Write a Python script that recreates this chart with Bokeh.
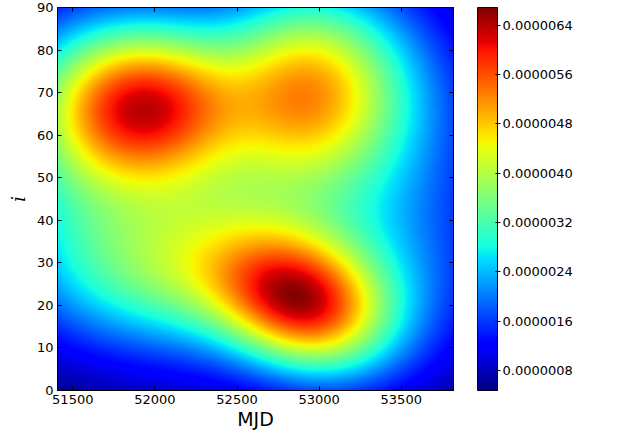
import numpy as np
from bokeh.plotting import figure
from bokeh.models import (LinearColorMapper, FixedTicker, PrintfTickFormatter,
                          LinearAxis, Label, Range1d, CustomLabelingPolicy)
from bokeh.layouts import row
from bokeh.embed import file_html
from bokeh.resources import INLINE

# Extent of the density map
mjd_limits = [51407, 53818]
inc_limits = [0, 90]

# Density model: each component has a centre (MJD, i), spreads, correlation and peak density
comp_mjd = [52650, 51450, 53400, 53400, 51950, 52920, 52900, 52150, 52250]
comp_inc = [51, 60, 70, 22, 67, 71, 20, 28, 45]
comp_mjd_sd = [1400, 350, 330, 400, 410, 350, 350, 600, 600]
comp_inc_sd = [38, 22, 18, 15, 13, 16, 11, 13, 10]
comp_corr = [0.0, 0.0, 0.0, 0.0, 0.0, 0.0, -0.2, 0.0, 0.0]
comp_peak = [1.8e-6, 1.0e-6, 0.9e-6, 0.8e-6, 4.45e-6, 3.15e-6, 4.0e-6, 2.3e-6, 0.3e-6]

# Colour scale and ticks
density_range = [4.75e-7, 6.69e-6]
density_ticks = [8e-7, 1.6e-6, 2.4e-6, 3.2e-6, 4.0e-6, 4.8e-6, 5.6e-6, 6.4e-6]
mjd_ticks = [51500, 52000, 52500, 53000, 53500]
inc_ticks = [0, 10, 20, 30, 40, 50, 60, 70, 80, 90]


def jet_palette(n=256):
    t = np.linspace(0, 1, n)
    r = np.interp(t, [0, 0.35, 0.66, 0.89, 1], [0, 0, 1, 1, 0.5])
    g = np.interp(t, [0, 0.125, 0.375, 0.64, 0.91, 1], [0, 0, 1, 1, 0, 0])
    b = np.interp(t, [0, 0.11, 0.34, 0.65, 1], [0.5, 1, 1, 0, 0])
    return ["#%02x%02x%02x" % (int(round(rr * 255)), int(round(gg * 255)), int(round(bb * 255)))
            for rr, gg, bb in zip(r, g, b)]


FRAME_W, FRAME_H = 396, 383

# Evaluate the density on the pixel grid
xs = mjd_limits[0] + (np.arange(FRAME_W) + 0.5) * (mjd_limits[1] - mjd_limits[0]) / FRAME_W
ys = inc_limits[0] + (np.arange(FRAME_H) + 0.5) * (inc_limits[1] - inc_limits[0]) / FRAME_H
X, Y = np.meshgrid(xs, ys)
density = np.zeros_like(X)
for cx, cy, sx, sy, rho, amp in zip(comp_mjd, comp_inc, comp_mjd_sd, comp_inc_sd, comp_corr, comp_peak):
    u = (X - cx) / sx
    v = (Y - cy) / sy
    density += amp * np.exp(-(u * u - 2 * rho * u * v + v * v) / (2 * (1 - rho * rho)))

palette = jet_palette()
mapper = LinearColorMapper(palette=palette, low=density_range[0], high=density_range[1])

TICK_FONT = "13px"
LABEL_FONT = "19px"

p = figure(x_range=Range1d(*mjd_limits), y_range=Range1d(*inc_limits),
           frame_width=FRAME_W, frame_height=FRAME_H,
           min_border_left=57, min_border_right=24, min_border_top=7, min_border_bottom=44,
           output_backend="svg", toolbar_location=None)
p.image(image=[density], x=mjd_limits[0], y=inc_limits[0],
        dw=mjd_limits[1] - mjd_limits[0], dh=inc_limits[1] - inc_limits[0],
        color_mapper=mapper)
p.grid.visible = False
p.outline_line_color = "black"
p.outline_line_width = 1
p.background_fill_color = "white"
p.border_fill_color = "white"

p.xaxis.ticker = FixedTicker(ticks=mjd_ticks)
p.yaxis.ticker = FixedTicker(ticks=inc_ticks)
for ax in (p.xaxis[0], p.yaxis[0]):
    ax.major_tick_in = 4
    ax.major_tick_out = 0
    ax.minor_tick_line_color = None
    ax.axis_line_color = "black"
    ax.major_tick_line_color = "black"
    ax.major_label_text_font = "DejaVu Sans"
    ax.major_label_text_font_size = TICK_FONT
    ax.major_label_text_color = "black"
    ax.major_label_standoff = 4
    ax.axis_label_text_font_size = LABEL_FONT
    ax.axis_label_text_color = "black"
p.xaxis.axis_label = "MJD"
p.xaxis.axis_label_text_font = "DejaVu Sans"
p.xaxis.axis_label_text_font_style = "normal"
p.xaxis.axis_label_standoff = 1
p.yaxis.axis_label = "i"
p.yaxis.axis_label_text_font = "DejaVu Serif"
p.yaxis.axis_label_text_font_style = "italic"
p.yaxis.axis_label_standoff = 5

# Mirror ticks on the top and right edges, without labels
no_labels = CustomLabelingPolicy(code="""
    for (const i of [...indices]) { indices.unset(i) }
    return indices
""")
mirror = dict(major_label_policy=no_labels, major_label_text_font_size="0px",
              major_tick_in=4, major_tick_out=0, minor_tick_line_color=None,
              major_label_standoff=0, axis_line_color="black")
p.add_layout(LinearAxis(ticker=FixedTicker(ticks=mjd_ticks), **mirror), "above")
p.add_layout(LinearAxis(ticker=FixedTicker(ticks=inc_ticks), **mirror), "right")

# Colour bar drawn as its own narrow figure
lo, hi = density_range
cb = figure(x_range=Range1d(0, 1), y_range=Range1d(lo, hi),
            frame_width=20, frame_height=FRAME_H,
            min_border_left=0, min_border_right=120, min_border_top=7, min_border_bottom=44,
            x_axis_location=None, y_axis_location="right",
            output_backend="svg", toolbar_location=None)
cb.image(image=[np.linspace(lo, hi, 256).reshape(-1, 1)], x=0, y=lo, dw=1, dh=hi - lo,
         color_mapper=mapper)
cb.grid.visible = False
cb.outline_line_color = "black"
cb.outline_line_width = 1
cax = cb.yaxis[0]
cax.ticker = FixedTicker(ticks=density_ticks)
cax.formatter = PrintfTickFormatter(format="%.7f")
cax.major_tick_in = 2
cax.major_tick_out = 3
cax.minor_tick_line_color = None
cax.axis_line_color = "black"
cax.major_label_text_font = "DejaVu Sans"
cax.major_label_text_font_size = TICK_FONT
cax.major_label_text_color = "black"
cax.major_label_standoff = 2
cb.add_layout(Label(x=(588 - 477) / 20, y=(lo + hi) / 2, text="Density", angle=np.pi / 2,
                    text_align="center", text_baseline="middle",
                    text_font="DejaVu Sans", text_font_size=LABEL_FONT, text_color="black"))

layout = row(p, cb)
open("out.html", "w").write(file_html(layout, INLINE))
